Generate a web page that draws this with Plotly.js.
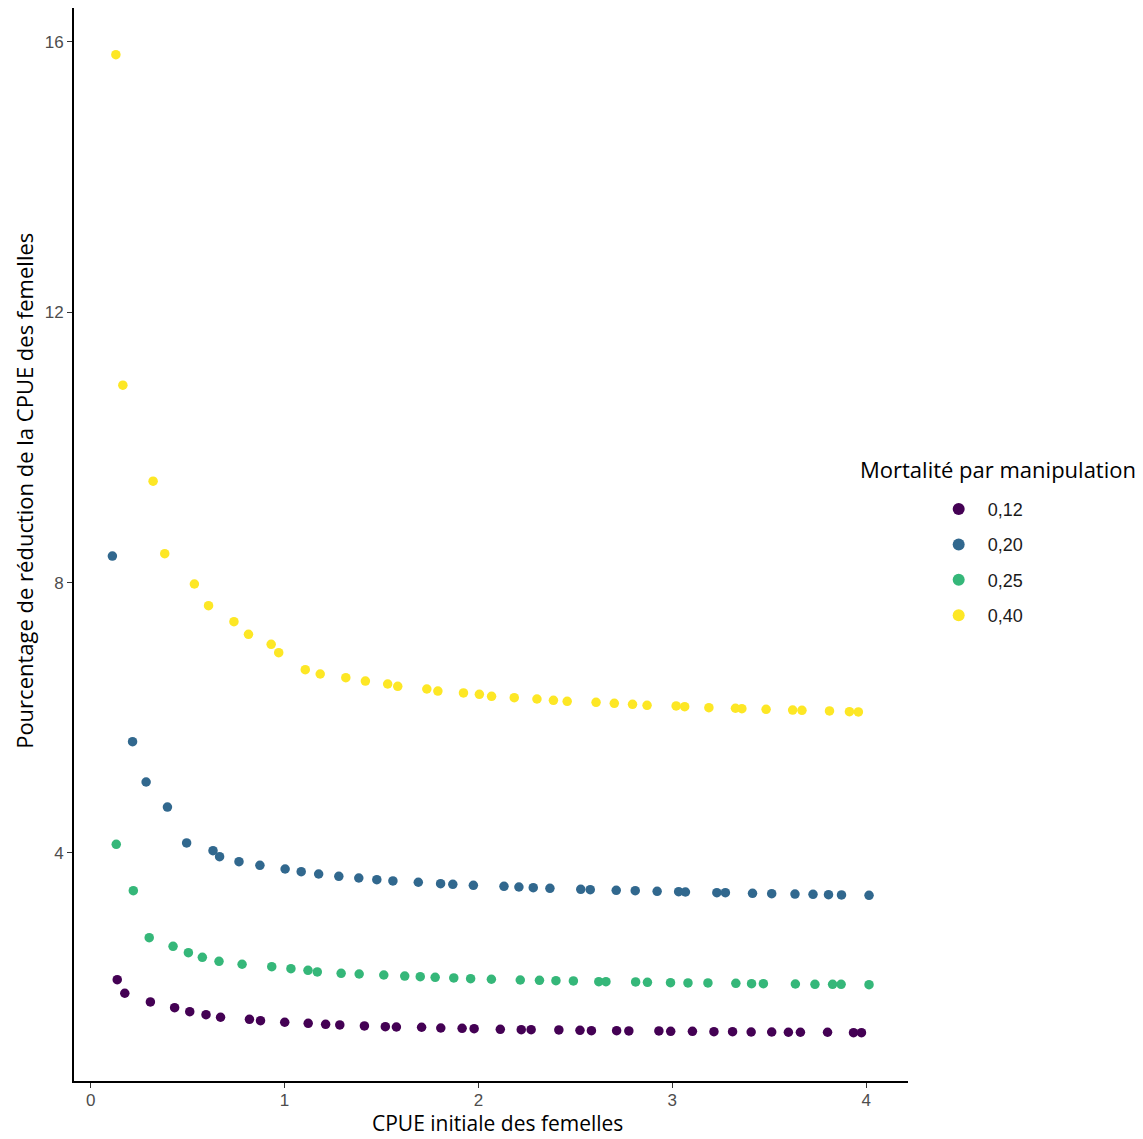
<!DOCTYPE html>
<html>
<head>
<meta charset="utf-8">
<script src="https://cdn.plot.ly/plotly-3.0.1.min.js"></script>
<style>html,body{margin:0;padding:0;background:#fff;}#chart{width:1143px;height:1139px;}</style>
</head>
<body>
<div id="chart"></div>
<script>
// Series labels (Mortalité par manipulation)
const seriesNames = ["0,12", "0,20", "0,25", "0,40"];
const seriesColors = ["#440154", "#31688E", "#35B779", "#FDE725"];

// 0,12
const x012 = [0.137,0.176,0.308,0.433,0.511,0.595,0.670,0.819,0.876,1.001,1.122,1.212,1.285,1.412,1.520,1.577,1.707,1.806,1.916,1.978,2.113,2.221,2.272,2.415,2.524,2.583,2.713,2.776,2.931,2.992,3.104,3.215,3.311,3.407,3.513,3.599,3.661,3.801,3.935,3.976];
const y012 = [2.126,1.925,1.796,1.712,1.652,1.608,1.570,1.540,1.519,1.496,1.481,1.466,1.456,1.441,1.430,1.426,1.422,1.411,1.407,1.401,1.392,1.386,1.386,1.382,1.377,1.371,1.371,1.367,1.367,1.362,1.362,1.357,1.357,1.352,1.352,1.348,1.348,1.348,1.342,1.342];

// 0,20
const x020 = [0.112,0.216,0.286,0.396,0.495,0.631,0.665,0.765,0.873,1.003,1.086,1.176,1.280,1.383,1.476,1.559,1.690,1.805,1.868,1.974,2.132,2.209,2.283,2.369,2.528,2.577,2.711,2.809,2.922,3.033,3.068,3.230,3.274,3.414,3.513,3.633,3.726,3.806,3.873,4.015];
const y020 = [8.393,5.646,5.050,4.680,4.148,4.034,3.945,3.871,3.818,3.763,3.723,3.689,3.655,3.630,3.605,3.586,3.567,3.546,3.537,3.522,3.507,3.497,3.487,3.478,3.463,3.457,3.448,3.442,3.433,3.428,3.423,3.413,3.413,3.404,3.398,3.393,3.389,3.383,3.379,3.374];

// 0,25
const x025 = [0.132,0.220,0.302,0.425,0.504,0.576,0.662,0.781,0.934,1.033,1.121,1.169,1.292,1.385,1.512,1.620,1.700,1.777,1.873,1.960,2.067,2.216,2.315,2.400,2.490,2.621,2.658,2.811,2.872,2.991,3.081,3.184,3.328,3.409,3.470,3.635,3.736,3.827,3.871,4.015];
const y025 = [4.129,3.442,2.747,2.620,2.525,2.457,2.398,2.354,2.318,2.288,2.265,2.240,2.220,2.210,2.195,2.180,2.170,2.161,2.151,2.141,2.132,2.121,2.117,2.111,2.107,2.096,2.096,2.092,2.087,2.081,2.077,2.077,2.072,2.067,2.067,2.062,2.058,2.058,2.058,2.052];

// 0,40
const x040 = [0.130,0.166,0.322,0.382,0.535,0.608,0.739,0.814,0.931,0.970,1.107,1.184,1.316,1.417,1.532,1.584,1.734,1.791,1.923,2.005,2.068,2.185,2.302,2.387,2.458,2.607,2.701,2.795,2.870,3.020,3.064,3.189,3.326,3.359,3.484,3.621,3.669,3.811,3.914,3.960];
const y040 = [15.81,10.92,9.50,8.428,7.979,7.658,7.422,7.235,7.087,6.963,6.712,6.648,6.593,6.544,6.500,6.466,6.426,6.396,6.367,6.348,6.318,6.297,6.278,6.259,6.244,6.229,6.214,6.200,6.185,6.175,6.164,6.149,6.141,6.135,6.126,6.115,6.111,6.101,6.090,6.086];

const xTicks = [0, 1, 2, 3, 4];
const yTicks = [4, 8, 12, 16];
const xTitle = "CPUE initiale des femelles";
const yTitle = "Pourcentage de réduction de la CPUE des femelles";
const legendTitle = "Mortalité par manipulation";

const xs = [x012, x020, x025, x040];
const ys = [y012, y020, y025, y040];

const traces = seriesNames.map((name, i) => ({
  type: "scatter",
  mode: "markers",
  name: name,
  legendgroup: "g" + i,
  x: xs[i],
  y: ys[i],
  marker: {color: seriesColors[i], size: 9.5, line: {width: 0}},
  hoverinfo: "x+y+name"
}));

const layout = {
  width: 1143,
  height: 1139,
  margin: {l: 74, r: 235, t: 8, b: 58},
  paper_bgcolor: "#ffffff",
  plot_bgcolor: "#ffffff",
  showlegend: true,
  legend: {
    x: 1.026, xanchor: "left",
    y: 0.55, yanchor: "top",
    font: {family: "Liberation Sans, Arial, sans-serif", size: 18, color: "#1a1a1a"},
    tracegroupgap: 9,
    itemwidth: 48,
    itemsizing: "constant",
    bgcolor: "rgba(0,0,0,0)"
  },
  xaxis: {
    range: [-0.086, 4.216],
    tickvals: xTicks,
    ticktext: xTicks.map(String),
    showgrid: false, zeroline: false,
    showline: true, linecolor: "#000000", linewidth: 1.8,
    ticks: "outside", ticklen: 5, tickwidth: 1.4, tickcolor: "#333333",
    ticklabelstandoff: -2,
    tickfont: {family: "Liberation Sans, Arial, sans-serif", size: 17, color: "#4d4d4d"}
  },
  yaxis: {
    range: [0.627, 16.5],
    tickvals: yTicks,
    ticktext: yTicks.map(String),
    showgrid: false, zeroline: false,
    showline: true, linecolor: "#000000", linewidth: 1.8,
    ticks: "outside", ticklen: 5, tickwidth: 1.4, tickcolor: "#333333",
    tickfont: {family: "Liberation Sans, Arial, sans-serif", size: 17, color: "#4d4d4d"}
  },
  annotations: [
    {text: xTitle, xref: "paper", yref: "paper", x: 0.508, y: 0, yshift: -42, xanchor: "center", yanchor: "middle",
     showarrow: false, font: {family: "Open Sans, Noto Sans, sans-serif", size: 21, color: "#000000"}},
    {text: yTitle, xref: "paper", yref: "paper", x: 0, xshift: -50, y: 0.55, xanchor: "center", yanchor: "middle",
     textangle: -90, showarrow: false, font: {family: "Open Sans, Noto Sans, sans-serif", size: 22, color: "#000000"}},
    {text: legendTitle, xref: "paper", yref: "paper", x: 0.94, y: 0.57, xanchor: "left", yanchor: "middle",
     showarrow: false, font: {family: "Open Sans, Noto Sans, sans-serif", size: 22, color: "#000000"}}
  ]
};

Plotly.newPlot("chart", traces, layout, {displayModeBar: false, responsive: false});
</script>
</body>
</html>
